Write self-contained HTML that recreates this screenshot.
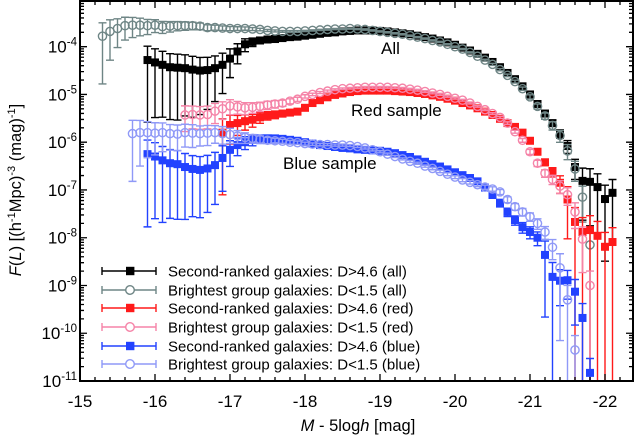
<!DOCTYPE html>
<html><head><meta charset="utf-8"><style>
html,body{margin:0;padding:0;background:#fff;}
svg{display:block;font-family:"Liberation Sans",Arial,sans-serif;}
</style></head><body>
<svg id="chart" width="637" height="437" viewBox="0 0 637 437" xmlns="http://www.w3.org/2000/svg">
<g id="marks"></g>
<g id="axes"></g>
<text x="381" y="54" font-size="17">All</text>
<text x="351" y="116" font-size="17">Red sample</text>
<text x="283" y="169" font-size="17">Blue sample</text>
<text x="358" y="431" font-size="16.5" text-anchor="middle"><tspan font-style="italic">M</tspan> - 5log<tspan font-style="italic">h</tspan>  [mag]</text>
<text transform="translate(21,190) rotate(-90)" font-size="16.5" text-anchor="middle"><tspan font-style="italic">F</tspan>(<tspan font-style="italic">L</tspan>)  [(h<tspan font-size="11" dy="-6">-1</tspan><tspan dy="6">Mpc)</tspan><tspan font-size="11" dy="-6">-3</tspan><tspan dy="6"> (mag)</tspan><tspan font-size="11" dy="-6">-1</tspan><tspan dy="6">]</tspan></text>
<g id="legend"></g>
</svg>
<script>
const mags = [-15.3,-15.4,-15.5,-15.6,-15.7,-15.8,-15.9,-16.0,-16.1,-16.2,-16.3,-16.4,-16.5,-16.6,-16.7,-16.8,-16.9,-17.0,-17.1,-17.2,-17.3,-17.4,-17.5,-17.6,-17.7,-17.8,-17.9,-18.0,-18.1,-18.2,-18.3,-18.4,-18.5,-18.6,-18.7,-18.8,-18.9,-19.0,-19.1,-19.2,-19.3,-19.4,-19.5,-19.6,-19.7,-19.8,-19.9,-20.0,-20.1,-20.2,-20.3,-20.4,-20.5,-20.6,-20.7,-20.8,-20.9,-21.0,-21.1,-21.2,-21.3,-21.4,-21.5,-21.6,-21.7,-21.8,-21.9,-22.0,-22.1];
const xTicks = [-15,-16,-17,-18,-19,-20,-21,-22];
const yTickExps = [-11,-10,-9,-8,-7,-6,-5,-4];
const seriesNames = ["Second-ranked galaxies: D>4.6 (all)","Brightest group galaxies: D<1.5 (all)","Second-ranked galaxies: D>4.6 (red)","Brightest group galaxies: D<1.5 (red)","Second-ranked galaxies: D>4.6 (blue)","Brightest group galaxies: D<1.5 (blue)"];
const seriesColors = ["#000000","#6e8585","#ff1a1a","#f584a8","#2242ff","#8f99f7"];
const seriesMarkers = ["square","circle","square","circle","square","circle"];
const seriesStart = [6,0,16,11,6,4];
const logAllSecond = [-4.28,-4.33,-4.38,-4.43,-4.44,-4.45,-4.48,-4.5,-4.49,-4.45,-4.38,-4.25,-4.1,-3.95,-3.9,-3.87,-3.85,-3.84,-3.82,-3.8,-3.79,-3.77,-3.75,-3.73,-3.71,-3.7,-3.68,-3.67,-3.66,-3.66,-3.66,-3.67,-3.68,-3.7,-3.72,-3.74,-3.77,-3.8,-3.83,-3.87,-3.91,-3.96,-4.02,-4.08,-4.15,-4.23,-4.32,-4.43,-4.55,-4.68,-4.83,-5.0,-5.2,-5.4,-5.6,-5.82,-6.08,-6.52,-6.81,-6.83,-6.94,-7.19,-7.06];
const logAllBright = [-3.78,-3.68,-3.62,-3.56,-3.55,-3.55,-3.56,-3.55,-3.58,-3.57,-3.56,-3.56,-3.56,-3.57,-3.6,-3.6,-3.61,-3.62,-3.62,-3.62,-3.63,-3.64,-3.66,-3.67,-3.68,-3.68,-3.68,-3.67,-3.66,-3.65,-3.64,-3.63,-3.63,-3.62,-3.63,-3.64,-3.66,-3.68,-3.7,-3.72,-3.74,-3.77,-3.8,-3.83,-3.87,-3.9,-3.95,-4.0,-4.05,-4.12,-4.2,-4.28,-4.37,-4.48,-4.6,-4.73,-4.88,-5.05,-5.25,-5.45,-5.65,-5.86,-6.18,-6.56,-7.15,-8.15];
const logRedSecond = [-5.8,-5.64,-5.6,-5.56,-5.53,-5.48,-5.44,-5.42,-5.4,-5.38,-5.36,-5.28,-5.18,-5.12,-5.06,-5.01,-4.98,-4.95,-4.93,-4.92,-4.92,-4.92,-4.92,-4.93,-4.94,-4.95,-4.97,-4.99,-5.02,-5.05,-5.09,-5.13,-5.18,-5.23,-5.29,-5.36,-5.43,-5.51,-5.6,-5.68,-5.8,-5.97,-6.2,-6.42,-6.62,-6.85,-7.2,-7.67,-7.88,-7.84,-7.96,-8.19,-8.09];
const logRedBright = [-5.43,-5.42,-5.43,-5.42,-5.35,-5.3,-5.24,-5.26,-5.28,-5.27,-5.25,-5.22,-5.2,-5.18,-5.14,-5.1,-5.04,-5.0,-4.96,-4.93,-4.9,-4.88,-4.87,-4.86,-4.85,-4.85,-4.85,-4.85,-4.86,-4.87,-4.89,-4.91,-4.94,-4.97,-5.0,-5.04,-5.08,-5.12,-5.18,-5.25,-5.32,-5.4,-5.48,-5.6,-5.78,-5.96,-6.2,-6.44,-6.65,-6.78,-6.92,-7.1,-7.46,-8.03,-9.0];
const logBlueSecond = [-6.25,-6.3,-6.38,-6.44,-6.46,-6.52,-6.56,-6.58,-6.55,-6.48,-6.33,-6.16,-6.06,-6.0,-5.95,-5.93,-5.92,-5.92,-5.93,-5.95,-5.97,-6.0,-6.03,-6.06,-6.08,-6.1,-6.12,-6.13,-6.15,-6.16,-6.17,-6.18,-6.2,-6.23,-6.27,-6.31,-6.36,-6.41,-6.46,-6.51,-6.57,-6.63,-6.69,-6.75,-6.82,-6.95,-7.1,-7.27,-7.46,-7.63,-7.78,-7.88,-8.0,-8.36,-8.82,-8.9,-8.89,-9.13,-9.68,-10.83];
const logBlueBright = [-5.82,-5.8,-5.8,-5.81,-5.8,-5.82,-5.83,-5.8,-5.81,-5.82,-5.81,-5.8,-5.82,-5.84,-5.87,-5.9,-5.92,-5.94,-5.96,-5.97,-5.98,-6.0,-6.01,-6.03,-6.04,-6.05,-6.05,-6.06,-6.06,-6.07,-6.09,-6.12,-6.16,-6.2,-6.25,-6.3,-6.35,-6.4,-6.44,-6.5,-6.55,-6.61,-6.67,-6.73,-6.79,-6.84,-6.89,-6.94,-6.98,-7.04,-7.2,-7.35,-7.46,-7.56,-7.7,-7.88,-8.2,-8.63,-9.3,-10.35];
const errAllSecond = [0.95,0.93,0.92,0.92,0.92,0.9,0.9,0.88,0.85,0.8,0.75,0.6,0.45,0.3,0.2,0.15,0.12,0.1,0.08,0.07,0.06,0.05,0.04,0.04,0.04,0.04,0.04,0.04,0.04,0.04,0.04,0.04,0.04,0.04,0.04,0.04,0.04,0.04,0.04,0.04,0.04,0.04,0.04,0.04,0.04,0.04,0.04,0.04,0.05,0.06,0.07,0.08,0.1,0.12,0.15,0.2,0.3,0.45,0.85,0.88,0.9,0.95,0.9];
const errAllBright = [0.9,0.75,0.6,0.5,0.45,0.4,0.35,0.3,0.28,0.25,0.22,0.2,0.18,0.16,0.14,0.12,0.11,0.1,0.09,0.08,0.07,0.06,0.05,0.05,0.04,0.04,0.04,0.03,0.03,0.03,0.03,0.03,0.03,0.03,0.03,0.03,0.03,0.03,0.03,0.03,0.03,0.03,0.03,0.03,0.03,0.03,0.03,0.03,0.03,0.03,0.04,0.04,0.05,0.05,0.06,0.07,0.08,0.1,0.12,0.15,0.2,0.28,0.35,0.45,0.7,1.2];
const errRedSecond = [0.95,0.6,0.45,0.35,0.3,0.25,0.2,0.18,0.15,0.12,0.1,0.09,0.08,0.07,0.06,0.05,0.04,0.04,0.04,0.04,0.04,0.04,0.04,0.04,0.04,0.04,0.04,0.04,0.04,0.04,0.04,0.04,0.04,0.04,0.04,0.04,0.04,0.04,0.05,0.06,0.08,0.1,0.12,0.15,0.22,0.4,0.85,1.0,1.0,1.0,1.0,1.0,1.0];
const errRedBright = [0.55,0.5,0.5,0.5,0.45,0.4,0.35,0.3,0.28,0.25,0.22,0.2,0.18,0.15,0.12,0.1,0.08,0.06,0.05,0.05,0.04,0.04,0.04,0.04,0.04,0.04,0.04,0.04,0.04,0.04,0.04,0.04,0.04,0.04,0.04,0.04,0.04,0.04,0.04,0.04,0.04,0.04,0.05,0.06,0.07,0.09,0.12,0.15,0.18,0.22,0.3,0.4,0.55,0.8,1.0];
const errBlueSecond = [0.97,0.95,0.95,0.93,0.93,0.92,0.9,0.9,0.88,0.85,0.8,0.55,0.4,0.3,0.25,0.2,0.17,0.14,0.12,0.1,0.09,0.08,0.07,0.07,0.06,0.06,0.06,0.05,0.05,0.05,0.05,0.05,0.05,0.05,0.06,0.06,0.06,0.07,0.07,0.08,0.08,0.09,0.1,0.11,0.12,0.14,0.16,0.18,0.2,0.22,0.25,0.28,0.32,0.95,1.0,0.7,0.6,0.8,1.0,1.0];
const errBlueBright = [0.9,0.8,0.7,0.65,0.6,0.55,0.55,0.5,0.5,0.45,0.45,0.4,0.4,0.35,0.3,0.25,0.2,0.18,0.15,0.12,0.1,0.09,0.08,0.07,0.06,0.06,0.05,0.05,0.05,0.05,0.05,0.05,0.05,0.05,0.05,0.05,0.05,0.05,0.05,0.05,0.06,0.06,0.07,0.07,0.08,0.08,0.09,0.1,0.11,0.12,0.14,0.16,0.18,0.2,0.25,0.3,0.45,0.97,1.0,1.0];

const seriesLogs = [logAllSecond,logAllBright,logRedSecond,logRedBright,logBlueSecond,logBlueBright];
const seriesErrs = [errAllSecond,errAllBright,errRedSecond,errRedBright,errBlueSecond,errBlueBright];

const NS = "http://www.w3.org/2000/svg";
const L = 80, R = 633, T = 1, B = 381;
const X0 = -15, PXM = 75;
const LOGB = -11, PXD = 47.76;
function xs(m){ return L + (X0 - m) * PXM; }
function ys(lg){ return B - (lg - LOGB) * PXD; }
function mk(tag, attrs, parent){ const e = document.createElementNS(NS, tag); for (const k in attrs) e.setAttribute(k, attrs[k]); parent.appendChild(e); return e; }

const marks = document.getElementById('marks');
const clip = mk('clipPath', {id:'pc'}, document.getElementById('chart'));
mk('rect', {x:L, y:T, width:R-L, height:B-T}, clip);
marks.setAttribute('clip-path', 'url(#pc)');

function drawMarker(kind, cx, cy, color, parent){
  if (kind === 'square') return mk('rect', {x:cx-4, y:cy-4, width:8, height:8, fill:color}, parent);
  return mk('circle', {cx:cx, cy:cy, r:4.1, fill:'none', stroke:color, 'stroke-width':1.4}, parent);
}

seriesLogs.forEach((logs, s) => {
  const g = mk('g', {}, marks);
  
  
  const col = seriesColors[s];
  logs.forEach((lg, i) => {
    const m = mags[seriesStart[s] + i];
    const e = seriesErrs[s][i];
    const cx = xs(m), cy = ys(lg);
    const up = ys(lg + Math.log10(1 + e));
    const dn = e >= 1 ? B + 5 : ys(lg + Math.log10(1 - e));
    const bar = mk('path', {d:`M${cx},${up}V${dn}M${cx-4},${up}H${cx+4}` + (e < 1 ? `M${cx-4},${dn}H${cx+4}` : ''), stroke:col, 'stroke-width':1.4, fill:'none'}, g);
    
    
    const pt = drawMarker(seriesMarkers[s], cx, cy, col, g);
    
    
  });
});

const axes = document.getElementById('axes');
const frame = mk('rect', {x:L, y:T, width:R-L, height:B-T, fill:'none', stroke:'#000', 'stroke-width':2}, axes);


let tp = '';
for (let k = 0; k <= 37; k++) {
  const m = -15 - k * 0.2;
  const x = xs(m);
  if (x > R) break;
  const len = (k % 5 === 0) ? 7 : 4;
  tp += `M${x},${B}V${B-len}M${x},${T}V${T+len}`;
}
for (let e = -11; e <= -4; e++) {
  for (let d = 1; d <= 9; d++) {
    const y = ys(e + Math.log10(d));
    if (y < T) continue;
    const len = d === 1 ? 7 : 4;
    tp += `M${L},${y}H${L+len}M${R},${y}H${R-len}`;
  }
}
const tickPath = mk('path', {d:tp, stroke:'#000', 'stroke-width':1.3, fill:'none'}, axes);


xTicks.forEach(v => {
  const t = mk('text', {x:xs(v), y:407, 'font-size':17, 'text-anchor':'middle'}, axes);
  t.textContent = String(v);
  
  
});
yTickExps.forEach(e => {
  const t = mk('text', {x:77, y:ys(e)+6, 'font-size':17, 'text-anchor':'end'}, axes);
  
  
  const a = mk('tspan', {}, t); a.textContent = '10';
  const b = mk('tspan', {'font-size':11.5, dy:-7}, t); b.textContent = String(e);
});

const legend = document.getElementById('legend');
const legY = [271, 290, 308, 327, 346, 364];
seriesNames.forEach((n, s) => {
  const g = mk('g', {}, legend);
  
  
  const y = legY[s], col = seriesColors[s];
  mk('path', {d:`M102,${y}H156M102,${y-4}V${y+4}M156,${y-4}V${y+4}`, stroke:col, 'stroke-width':1.4, fill:'none'}, g);
  if (seriesMarkers[s] === 'circle') mk('circle', {cx:130, cy:y, r:4.3, fill:'#fff', stroke:col, 'stroke-width':1.4}, g);
  else mk('rect', {x:126, y:y-4.2, width:8.4, height:8.4, fill:col}, g);
  const t = mk('text', {x:168, y:y+5.5, 'font-size':15}, g);
  t.textContent = n;
});
</script>
</body></html>
